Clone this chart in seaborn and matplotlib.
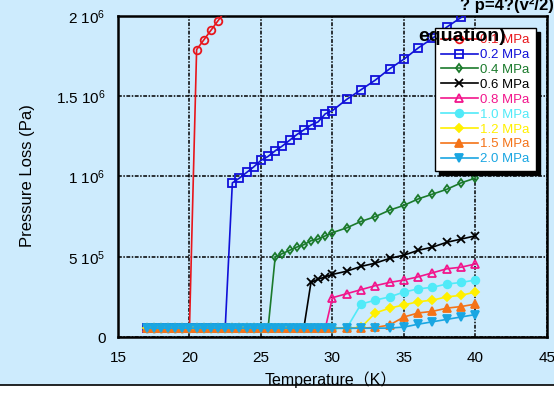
import matplotlib
matplotlib.use("Agg")
import matplotlib.pyplot as plt
from matplotlib.lines import Line2D
from matplotlib.patches import Rectangle
import seaborn as sns

plt.rcParams["font.family"] = ["Liberation Sans", "Noto Sans CJK JP", "DejaVu Sans"]
plt.rcParams["mathtext.default"] = "regular"

# ---------------------------------------------------------
# Data (T in K, pressure loss in Pa)
# ---------------------------------------------------------
low_T = [17.0, 17.5, 18.0, 18.5, 19.0, 19.5, 20.0, 20.5, 21.0, 21.5, 22.0, 22.5, 23.0,
         23.5, 24.0, 24.5, 25.0, 25.5, 26.0, 26.5, 27.0, 27.5, 28.0, 28.5, 29.0, 29.5, 30.0]
low_P = 5.5e4

labels = ["0.1 MPa", "0.2 MPa", "0.4 MPa", "0.6 MPa", "0.8 MPa",
          "1.0 MPa", "1.2 MPa", "1.5 MPa", "2.0 MPa"]
colors = ["#e8161c", "#1010d8", "#1b7a2c", "#000000", "#f2168c",
          "#50eaf8", "#fff000", "#f47318", "#1aa6e2"]
markers = ["o", "s", "d", "x", "^", "o", "D", "^", "v"]
filled = [False, False, False, True, False, True, True, True, True]

# points above the liquid baseline
hi_T_01 = [20.5, 21.0, 21.5, 22.0, 22.5, 23.0]
hi_P_01 = [1.79e6, 1.85e6, 1.91e6, 1.97e6, 2.03e6, 2.09e6]
hi_T_02 = [23.0, 23.5, 24.0, 24.5, 25.0, 25.5, 26.0, 26.5, 27.0, 27.5, 28.0, 28.5, 29.0,
           29.5, 30.0, 31, 32, 33, 34, 35, 36, 37, 38, 39, 40]
hi_P_02 = [0.96e6, 0.99e6, 1.025e6, 1.06e6, 1.10e6, 1.125e6, 1.16e6, 1.19e6, 1.225e6,
           1.26e6, 1.29e6, 1.32e6, 1.34e6, 1.39e6, 1.41e6, 1.48e6, 1.54e6, 1.60e6,
           1.67e6, 1.73e6, 1.80e6, 1.86e6, 1.93e6, 1.99e6, 2.05e6]
hi_T_04 = [26.0, 26.5, 27.0, 27.5, 28.0, 28.5, 29.0, 29.5, 30.0,
           31, 32, 33, 34, 35, 36, 37, 38, 39, 40]
hi_P_04 = [5.0e5, 5.2e5, 5.4e5, 5.6e5, 5.75e5, 6.0e5, 6.1e5, 6.3e5, 6.5e5,
           6.8e5, 7.2e5, 7.5e5, 7.9e5, 8.2e5, 8.6e5, 8.9e5, 9.2e5, 9.6e5, 9.9e5]
hi_T_06 = [28.5, 29.0, 29.5, 30.0, 31, 32, 33, 34, 35, 36, 37, 38, 39, 40]
hi_P_06 = [3.4e5, 3.6e5, 3.75e5, 3.9e5, 4.1e5, 4.4e5, 4.6e5, 4.9e5, 5.1e5,
           5.4e5, 5.6e5, 5.9e5, 6.1e5, 6.3e5]
hi_T_08 = [30.0, 31, 32, 33, 34, 35, 36, 37, 38, 39, 40]
hi_P_08 = [2.45e5, 2.7e5, 2.95e5, 3.2e5, 3.4e5, 3.55e5, 3.75e5, 4.0e5, 4.25e5, 4.35e5, 4.55e5]
hi_T_10 = [31, 32, 33, 34, 35, 36, 37, 38, 39, 40]
hi_P_10 = [5.5e4, 2.05e5, 2.3e5, 2.5e5, 2.8e5, 3.0e5, 3.1e5, 3.3e5, 3.4e5, 3.55e5]
hi_T_12 = [31, 32, 33, 34, 35, 36, 37, 38, 39, 40]
hi_P_12 = [5.5e4, 6.0e4, 1.5e5, 1.8e5, 2.0e5, 2.2e5, 2.3e5, 2.5e5, 2.6e5, 2.8e5]
hi_T_15 = [31, 32, 33, 34, 35, 36, 37, 38, 39, 40]
hi_P_15 = [5.5e4, 5.5e4, 6.0e4, 7.5e4, 1.25e5, 1.5e5, 1.6e5, 1.8e5, 1.9e5, 2.05e5]
hi_T_20 = [31, 32, 33, 34, 35, 36, 37, 38, 39, 40]
hi_P_20 = [5.5e4, 5.5e4, 5.5e4, 5.6e4, 6.2e4, 8.0e4, 9.5e4, 1.1e5, 1.25e5, 1.4e5]

# last baseline temperature of each series
last_low = [20.0, 22.5, 25.5, 28.0, 29.5, 30.0, 30.0, 30.0, 30.0]
hi_T = [hi_T_01, hi_T_02, hi_T_04, hi_T_06, hi_T_08, hi_T_10, hi_T_12, hi_T_15, hi_T_20]
hi_P = [hi_P_01, hi_P_02, hi_P_04, hi_P_06, hi_P_08, hi_P_10, hi_P_12, hi_P_15, hi_P_20]

# ---------------------------------------------------------
# Figure
# ---------------------------------------------------------
bg = "#cdebfd"
fig = plt.figure(figsize=(5.54, 3.97), dpi=100, facecolor=bg)
ax = fig.add_axes([0.213, 0.151, 0.774, 0.809])
ax.set_facecolor(bg)

for i in range(len(labels)):
    lo = [t for t in low_T if t <= last_low[i]]
    T = lo + hi_T[i]
    P = [low_P] * len(lo) + hi_P[i]
    sns.lineplot(x=T, y=P, ax=ax, color=colors[i], marker=markers[i], sort=False,
                 markersize=5.5 if markers[i] not in ("d", "D") else 4.5,
                 markeredgewidth=1.3, markeredgecolor=colors[i],
                 markerfacecolor=colors[i] if filled[i] else "none",
                 linewidth=1.2, label=labels[i], zorder=3 + i)

ax.set_xlim(15, 45)
ax.set_ylim(0, 2e6)
ax.set_xticks([15, 20, 25, 30, 35, 40, 45])
ax.set_yticks([0, 5e5, 1e6, 1.5e6, 2e6])
ax.set_yticklabels(["0", "5 10$^5$", "1 10$^6$", "1.5 10$^6$", "2 10$^6$"])
ax.tick_params(labelsize=11, length=0, pad=9)
ax.tick_params(axis="x", pad=10)
ax.grid(True, color="black", linestyle=(0, (2.5, 1, 1, 1)), linewidth=1.1)
for s in ax.spines.values():
    s.set_linewidth(1.8)
    s.set_color("black")

ax.set_xlabel("")
ax.set_ylabel("")
fig.text(0.05, 0.557, "Pressure Loss (Pa)", rotation=90, ha="center", va="center", fontsize=12)
fig.text(0.598, 0.043, "Temperature（K）", ha="center", va="center", fontsize=11.5)

leg = ax.legend(loc="upper left", bbox_to_anchor=(0.785, 0.929), bbox_transform=fig.transFigure,
                fontsize=9.5, frameon=True, fancybox=False, handlelength=2.8, handletextpad=0.2,
                labelspacing=0.2, borderpad=0.45, borderaxespad=0,
                shadow={"ox": 3, "oy": -3, "color": "black", "alpha": 1})
leg.get_frame().set_edgecolor("black")
leg.get_frame().set_linewidth(1.0)
leg.set_zorder(20)
for txt, c in zip(leg.get_texts(), colors):
    txt.set_color(c)

# title pieces, mostly cut off by the figure edge
fig.text(0.44, 1.028, "calculated by", ha="right", va="center", fontsize=12, fontweight="bold")
fig.text(0.83, 0.985, "? p=4?(v²/2)", ha="left", va="center", fontsize=12, fontweight="bold")
fig.text(0.835, 0.908, "equation)", ha="center", va="center", fontsize=14, fontweight="bold",
         zorder=30)

# bottom border strip
fig.add_artist(Rectangle((0, 0), 1, 0.03, transform=fig.transFigure, color="white", zorder=-1))
fig.add_artist(Line2D([0, 1], [0.03, 0.03], transform=fig.transFigure, color="black", lw=1.2))

fig.savefig("out.png", dpi=100, facecolor=bg)
